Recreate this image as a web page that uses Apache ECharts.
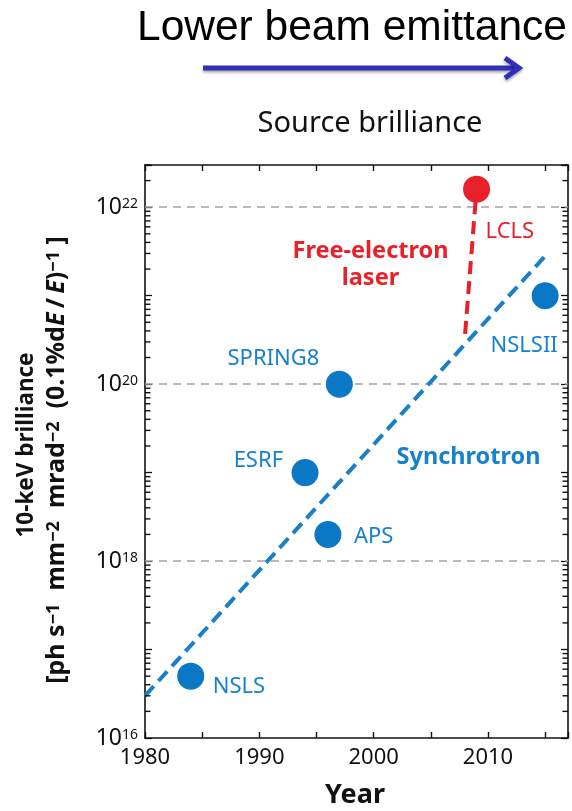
<!DOCTYPE html>
<html><head><meta charset="utf-8">
<script src="https://cdn.jsdelivr.net/npm/echarts@6/dist/echarts.min.js"></script>
<style>html,body{margin:0;padding:0;background:#fff}#c{width:572px;height:811px}</style>
</head><body><div id="c"></div>
<script>
// ---- data ----
const sources = ['NSLS', 'APS', 'ESRF', 'SPRING8', 'NSLSII'];
const sourceYears = [1984, 1996, 1994, 1997, 2015];
const sourceBrilliance = [5e16, 2e18, 1e19, 1e20, 1e21];
const felSources = ['LCLS'];
const felYears = [2009];
const felBrilliance = [1.6e22];
const synchTrendYears = [1980, 2015];
const synchTrendValues = [3e16, 2.8e21];
const felTrendYears = [2008, 2009];
const felTrendValues = [3.7e20, 1.6e22];
const xLabelYears = [1980, 1990, 2000, 2010];
const yLabelExponents = [16, 18, 20, 22];
const gridLineValues = [1e18, 1e20, 1e22];
const minorMultipliers = [2, 3, 4, 5, 6, 7, 8, 9];
const decadeExponents = [16, 17, 18, 19, 20, 21, 22];

const X_MIN = 1980, X_MAX = 2017, Y_MIN = 1e16, Y_MAX = 3e22;
const BLUE = '#0a78c4', BLUE_T = '#1682cd', RED = '#e8202a';
const FONT = 'Noto Sans';

const labelStyle = {
  NSLS: {align: 'left', offset: [22, 11]},
  APS: {align: 'left', offset: [26, 2]},
  ESRF: {align: 'right', offset: [-22, -12]},
  SPRING8: {align: 'right', offset: [-20, -25]},
  NSLSII: {align: 'center', offset: [-21, 50]},
  LCLS: {align: 'left', offset: [9, 43]}
};

const minorTicks = [];
decadeExponents.forEach(e => minorMultipliers.forEach(m => {
  const v = m * Math.pow(10, e);
  if (v <= Y_MAX) minorTicks.push(v);
}));

function pointData(names, xs, ys) {
  return names.map((n, i) => ({
    name: n, value: [xs[i], ys[i]],
    label: {show: true, position: 'inside', formatter: n, align: labelStyle[n].align,
      verticalAlign: 'middle', offset: labelStyle[n].offset}
  }));
}

const chart = echarts.init(document.getElementById('c'));

function xAxisOpt(pos, showLabel) {
  return {
    type: 'value', min: X_MIN, max: X_MAX, interval: 5, position: pos,
    axisLine: {show: true, lineStyle: {color: '#111', width: 1.6}},
    axisTick: {show: true, inside: true, length: 6, lineStyle: {color: '#111', width: 1.4}},
    splitLine: {show: false},
    axisLabel: showLabel ? {show: true, margin: 9, fontFamily: FONT, fontSize: 22, color: '#111',
      formatter: v => xLabelYears.includes(v) ? String(v) : ''} : {show: false}
  };
}
function yAxisOpt(pos, showLabel) {
  return {
    type: 'log', min: Y_MIN, max: Y_MAX, position: pos,
    axisLine: {show: true, lineStyle: {color: '#111', width: 1.6}},
    axisTick: {show: true, inside: true, length: 7, lineStyle: {color: '#111', width: 1.3}},
    splitLine: {show: false},
    axisLabel: showLabel ? {show: true, margin: 7, fontFamily: FONT, color: '#111',
      formatter: v => {
        const l = Math.log10(v), e = Math.round(l);
        if (Math.abs(l - e) > 1e-6 || !yLabelExponents.includes(e)) return '';
        return '{b|10}{s|' + e + '}';
      },
      rich: {
        b: {fontFamily: FONT, fontSize: 23, color: '#111', lineHeight: 20, verticalAlign: 'middle'},
        s: {fontFamily: FONT, fontSize: 14, color: '#111', verticalAlign: 'top', lineHeight: 14}
      }} : {show: false}
  };
}

const textGraphics = [
  {type: 'text', left: 137, top: 7, style: {text: 'Lower beam emittance', fontFamily: 'Liberation Sans', fontSize: 42.5, fill: '#000'}},
  {type: 'line', shape: {x1: 203, y1: 68, x2: 517, y2: 68},
    style: {stroke: '#2f2fb8', lineWidth: 5, shadowBlur: 3, shadowColor: 'rgba(0,0,0,0.35)', shadowOffsetY: 2}},
  {type: 'polyline', shape: {points: [[505, 58], [519, 68], [505, 78]]},
    style: {stroke: '#2f2fb8', fill: null, lineWidth: 5, shadowBlur: 3, shadowColor: 'rgba(0,0,0,0.35)', shadowOffsetY: 2}},
  {type: 'text', x: 370, y: 124, style: {text: 'Source brilliance', fontFamily: FONT, fontSize: 29, fill: '#111', align: 'center', verticalAlign: 'middle'}},
  {type: 'text', x: 370.5, y: 265, style: {text: 'Free-electron\nlaser', fontFamily: FONT, fontWeight: 'bold', fontSize: 23.5, lineHeight: 27, fill: RED, align: 'center', verticalAlign: 'middle'}},
  {type: 'text', x: 468.5, y: 457, style: {text: 'Synchrotron', fontFamily: FONT, fontWeight: 'bold', fontSize: 23.5, fill: BLUE_T, align: 'center', verticalAlign: 'middle'}},
  {type: 'text', x: 355, y: 795, style: {text: 'Year', fontFamily: FONT, fontWeight: 'bold', fontSize: 27, fill: '#111', align: 'center', verticalAlign: 'middle'}},
  {type: 'text', x: 27, y: 445, rotation: Math.PI / 2,
    style: {text: '10-keV brilliance', fontFamily: FONT, fontWeight: 'bold', fontSize: 22.5, fill: '#111', align: 'center', verticalAlign: 'middle'}},
  {type: 'text', x: 57, y: 460, rotation: Math.PI / 2,
    style: {
      text: '{n|[ph s}{s|−1}{n|  mm}{s|−2}{n|  mrad}{s|−2}{n|  (0.1%d}{i|E}{n|\u2009/\u2009}{i|E}{n|)}{s|−1}{n| ]}',
      align: 'center', verticalAlign: 'middle',
      rich: {
        n: {fontFamily: FONT, fontWeight: 'bold', fontSize: 25, fill: '#111', lineHeight: 25, verticalAlign: 'middle'},
        i: {fontFamily: FONT, fontWeight: 'bold', fontStyle: 'italic', fontSize: 25, fill: '#111', lineHeight: 25, verticalAlign: 'middle'},
        s: {fontFamily: FONT, fontWeight: 'bold', fontSize: 18, fill: '#111', lineHeight: 18, verticalAlign: 'top'}
      }
    }}
];

const option = {
  animation: false,
  backgroundColor: '#fff',
  grid: {left: 145, right: 4, top: 165, bottom: 73, containLabel: false},
  xAxis: [xAxisOpt('bottom', true), xAxisOpt('top', false)],
  yAxis: [yAxisOpt('left', true), yAxisOpt('right', false)],
  series: [
    {
      type: 'custom', clip: false, z: 8, xAxisIndex: 0, yAxisIndex: 0,
      encode: {x: 0, y: 1},
      data: minorTicks.map(v => [X_MIN, v]),
      renderItem: (params, api) => {
        const v = api.value(1);
        const l = api.coord([X_MIN, v]);
        const r = api.coord([X_MAX, v]);
        return {type: 'group', children: [
          {type: 'rect', shape: {x: l[0], y: l[1] - 0.7, width: 5.5, height: 1.4}, style: {fill: '#111'}},
          {type: 'rect', shape: {x: r[0] - 5.5, y: r[1] - 0.7, width: 5.5, height: 1.4}, style: {fill: '#111'}}
        ]};
      }
    },
    {
      type: 'line', symbol: 'none', z: 3,
      lineStyle: {color: '#1a7fc8', width: 4, type: [13, 7]},
      data: synchTrendYears.map((x, i) => [x, synchTrendValues[i]]),
      markLine: {
        silent: true, symbol: ['none', 'none'], label: {show: false}, z: 1,
        lineStyle: {color: '#a3a3a3', width: 1.6, type: [8, 6]},
        data: gridLineValues.map(v => ({yAxis: v}))
      }
    },
    {
      type: 'line', symbol: 'none', z: 3,
      lineStyle: {color: RED, width: 4, type: [13, 7]},
      data: felTrendYears.map((x, i) => [x, felTrendValues[i]])
    },
    {
      type: 'scatter', z: 5, symbol: 'circle', symbolSize: 27,
      itemStyle: {color: BLUE, opacity: 1},
      label: {fontFamily: FONT, fontSize: 22, color: BLUE_T},
      data: pointData(sources, sourceYears, sourceBrilliance)
    },
    {
      type: 'scatter', z: 5, symbol: 'circle', symbolSize: 27,
      itemStyle: {color: RED, opacity: 1},
      label: {fontFamily: FONT, fontSize: 22, color: RED},
      data: pointData(felSources, felYears, felBrilliance)
    }
  ],
  graphic: textGraphics
};
chart.setOption(option);
</script></body></html>
